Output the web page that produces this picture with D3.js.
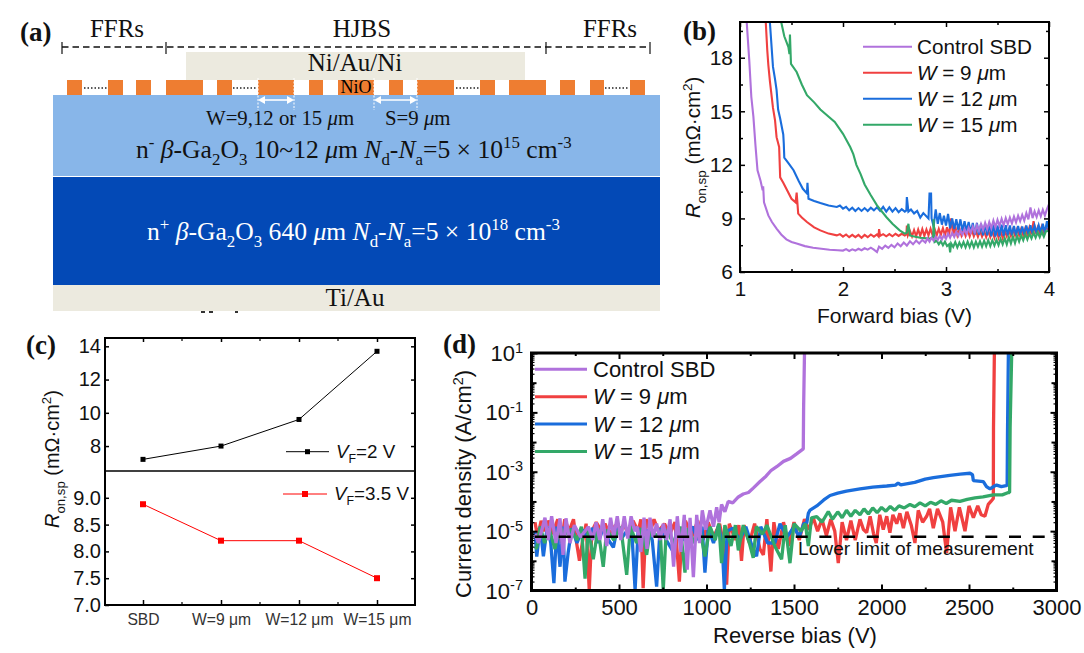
<!DOCTYPE html>
<html><head><meta charset="utf-8">
<script src="https://cdn.jsdelivr.net/npm/d3@7/dist/d3.min.js"></script>
<style>html,body{margin:0;padding:0;background:#fff}svg{display:block}</style></head>
<body><svg id="c" width="1084" height="653"></svg>
<script>
const SANS='"Liberation Sans",Arial,sans-serif', SERIF='"Liberation Serif","Times New Roman",serif';
const cPurple='#B072DC', cRed='#F04040', cBlue='#1A6DDC', cGreen='#33A868';

// (a) device structure
const orangeBlocks=[[67,82],[108,123],[136,151],[166,203],[217,232],[258,294],[309,323],[338,374],[389,403],[417,454],[480,495],[509,546],[560,575],[590,604],[630,645]];
const dotSegments=[[84,107],[233,257],[456,479],[605,629]];
const headerTicks=[62,166,546,650];
const cropMarks=[[201,205],[209,213],[235,238]];

// (b) Ron,sp vs forward bias
const bPurple=[[1.065,20],[1.09,17.85],[1.11,15.8],[1.13,14.7],[1.15,13.1],[1.17,11.7],[1.2,11.1],[1.22,10.57],[1.225,10.8],[1.233,9.9],[1.275,9.17],[1.31,8.8],[1.355,8.43],[1.4,8.1],[1.45,7.83],[1.5,7.68],[1.55,7.59],[1.63,7.45],[1.71,7.36],[1.79,7.3],[1.87,7.25],[1.95,7.22],[2.0,7.2],[2.03,7.28],[2.06,7.18],[2.09,7.27],[2.12,7.2],[2.15,7.3],[2.18,7.22],[2.21,7.33],[2.24,7.25],[2.27,7.36],[2.3,7.25],[2.33,7.12],[2.35,7.42],[2.38,7.3],[2.41,7.48],[2.44,7.35],[2.47,7.52],[2.5,7.38],[2.53,7.6],[2.56,7.44],[2.59,7.65],[2.62,7.48],[2.65,7.72],[2.68,7.55],[2.71,7.76],[2.74,7.6],[2.77,7.8],[2.8,7.65],[2.82,7.88],[2.84,7.7],[2.86,7.92],[2.88,7.75],[2.9,7.98],[2.92,7.8],[2.94,8.02],[2.96,7.82],[2.98,8.08],[3.0,7.86],[3.02,8.15],[3.04,7.92],[3.06,8.2],[3.08,7.96],[3.1,8.25],[3.12,8.02],[3.14,8.32],[3.16,8.08],[3.18,8.4],[3.2,8.12],[3.22,8.48],[3.24,8.2],[3.26,8.55],[3.28,8.22],[3.3,8.62],[3.32,8.3],[3.34,8.68],[3.36,8.35],[3.38,8.75],[3.4,8.4],[3.42,8.8],[3.44,8.45],[3.46,8.88],[3.48,8.5],[3.5,8.92],[3.52,8.58],[3.54,8.98],[3.56,8.62],[3.58,9.02],[3.6,8.68],[3.62,9.05],[3.64,8.72],[3.66,9.1],[3.68,8.78],[3.7,9.15],[3.72,8.85],[3.74,9.2],[3.76,8.88],[3.78,9.3],[3.8,8.95],[3.82,9.62],[3.84,9.02],[3.86,9.4],[3.88,9.08],[3.9,9.45],[3.92,9.12],[3.94,9.48],[3.96,9.16],[3.98,9.52],[4,9.8]];
const bRed=[[1.25,20],[1.265,18.4],[1.275,17.6],[1.29,16.7],[1.32,15.2],[1.34,14.5],[1.355,13.55],[1.38,13],[1.39,11.3],[1.42,11],[1.45,10.66],[1.5,10.1],[1.54,9.9],[1.55,10.45],[1.565,9.27],[1.6,9.05],[1.65,8.8],[1.72,8.5],[1.78,8.33],[1.86,8.15],[1.94,8.05],[1.97,8.12],[2,7.98],[2.03,8.1],[2.06,7.95],[2.09,8.08],[2.12,7.95],[2.15,8.08],[2.18,7.92],[2.21,8.08],[2.24,7.95],[2.27,8.1],[2.3,7.98],[2.33,8.1],[2.345,8],[2.35,8.4],[2.36,8.02],[2.39,8.12],[2.42,8],[2.45,8.12],[2.48,8],[2.51,8.14],[2.54,8.02],[2.57,8.14],[2.6,8.04],[2.615,8.1],[2.62,8.6],[2.63,8.05],[2.65,8.3],[2.67,8],[2.69,8.35],[2.71,8],[2.73,8.38],[2.75,8.02],[2.77,8.4],[2.79,8.02],[2.81,8.38],[2.83,8.05],[2.85,8.42],[2.87,8.05],[2.89,8.4],[2.91,8.05],[2.93,8.42],[2.95,8.08],[2.97,8.45],[2.99,8.05],[3.01,8.5],[3.03,8.05],[3.05,9],[3.07,8.05],[3.09,8.55],[3.11,8.05],[3.13,8.45],[3.15,8.05],[3.17,8.4],[3.19,8.02],[3.21,8.35],[3.23,8],[3.25,8.35],[3.27,8],[3.29,8.32],[3.31,7.98],[3.33,8.32],[3.35,7.98],[3.37,8.3],[3.39,7.95],[3.41,8.32],[3.43,7.95],[3.45,8.3],[3.47,7.92],[3.49,8.35],[3.51,7.92],[3.53,8.3],[3.55,7.9],[3.57,8.3],[3.59,8],[3.61,8.35],[3.63,8.02],[3.65,8.38],[3.67,8.05],[3.69,8.4],[3.71,8.05],[3.73,8.42],[3.75,8.05],[3.77,8.45],[3.79,8.08],[3.81,8.5],[3.83,8.1],[3.85,8.85],[3.87,8.15],[3.89,8.5],[3.91,8.2],[3.93,8.55],[3.95,8.2],[3.97,8.5],[4,8.3]];
const bBlue=[[1.29,20],[1.32,17.5],[1.34,16.8],[1.355,16.2],[1.37,15.1],[1.39,14.6],[1.42,13.7],[1.425,13.2],[1.43,12.4],[1.47,12.1],[1.52,11.7],[1.57,11.1],[1.61,10.66],[1.65,10.4],[1.655,11],[1.665,10.1],[1.72,9.98],[1.78,9.86],[1.86,9.72],[1.94,9.64],[1.97,9.72],[2,9.55],[2.03,9.65],[2.06,9.45],[2.09,9.6],[2.12,9.42],[2.15,9.58],[2.18,9.42],[2.21,9.58],[2.24,9.42],[2.27,9.6],[2.3,9.45],[2.33,9.62],[2.36,9.42],[2.39,9.65],[2.42,9.38],[2.45,9.62],[2.48,9.38],[2.51,9.58],[2.54,9.35],[2.57,9.52],[2.6,9.38],[2.615,9.45],[2.62,10.2],[2.635,9.38],[2.66,9.5],[2.69,9.28],[2.72,9.42],[2.75,9.05],[2.78,9.3],[2.83,9],[2.84,10.4],[2.855,10.4],[2.86,9],[2.88,8.55],[2.9,9.5],[2.92,8.7],[2.94,9.3],[2.96,8.65],[2.98,9.15],[3,8.6],[3.02,9.25],[3.04,8.45],[3.06,9.0],[3.08,8.4],[3.1,8.95],[3.12,8.35],[3.14,8.95],[3.16,8.3],[3.18,8.85],[3.2,8.3],[3.22,8.8],[3.24,8.2],[3.26,8.75],[3.28,8.1],[3.3,8.75],[3.32,8.1],[3.34,8.7],[3.36,8.05],[3.38,8.7],[3.4,8.05],[3.42,8.72],[3.44,8],[3.46,8.65],[3.48,7.98],[3.5,8.6],[3.52,8],[3.54,8.65],[3.56,8.02],[3.58,8.62],[3.6,8.05],[3.62,8.6],[3.64,8.05],[3.66,8.58],[3.68,8.05],[3.7,8.58],[3.72,8.08],[3.74,8.55],[3.76,8.1],[3.78,8.6],[3.8,8.12],[3.82,8.62],[3.84,8.15],[3.86,8.6],[3.88,8.18],[3.9,8.62],[3.92,8.2],[3.94,8.7],[3.96,8.2],[3.98,8.85],[4,8.3]];
const bGreen=[[1.4,20],[1.43,19.2],[1.47,18.6],[1.48,18.2],[1.485,19.3],[1.495,17.66],[1.55,17.2],[1.6,16.5],[1.65,15.9],[1.72,15.5],[1.78,15.1],[1.85,14.75],[1.92,14.4],[2,13.74],[2.07,13],[2.1,12.6],[2.13,12],[2.17,11.5],[2.21,10.9],[2.27,10.3],[2.33,9.73],[2.42,9.08],[2.48,8.7],[2.55,8.33],[2.6,8.15],[2.62,8.2],[2.635,8.7],[2.65,8.05],[2.68,8],[2.75,7.92],[2.84,7.87],[2.875,7.95],[2.88,8.95],[2.89,7.68],[2.91,7.75],[2.93,7.55],[2.95,7.72],[2.97,7.5],[2.99,7.7],[3.01,7.45],[3.03,7.55],[3.04,7.1],[3.05,7.6],[3.07,7.4],[3.09,7.68],[3.11,7.38],[3.13,7.65],[3.15,7.4],[3.17,7.68],[3.19,7.38],[3.21,7.7],[3.23,7.4],[3.25,7.7],[3.27,7.38],[3.29,7.7],[3.31,7.42],[3.33,7.72],[3.35,7.42],[3.37,7.75],[3.39,7.45],[3.41,7.78],[3.43,7.45],[3.45,7.78],[3.47,7.48],[3.49,7.8],[3.51,7.5],[3.53,7.85],[3.55,7.55],[3.57,7.9],[3.59,7.55],[3.61,7.95],[3.63,7.6],[3.65,7.98],[3.67,7.62],[3.69,8.02],[3.71,7.7],[3.73,8.05],[3.75,7.78],[3.77,8.12],[3.79,7.82],[3.81,8.15],[3.83,7.88],[3.85,8.2],[3.87,7.92],[3.89,8.22],[3.91,7.95],[3.93,8.25],[3.95,7.98],[3.97,8.28],[4,8.3]];

// (c) Ron,sp by device
const cCategories=['SBD','W=9 μm','W=12 μm','W=15 μm'];
const cTop=[7.2,8.0,9.6,13.7];
const cBottom=[8.88,8.2,8.2,7.5];

// (d) reverse leakage, [V, log10(J)]
const dPurple=[[20,-5.1],[40,-5.4],[77,-4.55],[95,-5.3],[115,-4.5],[140,-5.4],[163,-4.57],[180,-5.8],[197,-4.57],[220,-5.4],[245,-4.8],[280,-5.2],[325,-4.85],[350,-5.3],[369,-4.7],[390,-5.3],[407,-4.6],[430,-5.5],[452,-4.55],[470,-5.2],[490,-4.5],[510,-5.3],[530,-4.5],[550,-5.25],[569,-4.5],[590,-5.0],[605,-4.85],[625,-5.7],[643,-4.55],[660,-5.6],[677,-4.55],[695,-5.2],[715,-4.75],[735,-5.3],[753,-4.75],[772,-5.3],[792,-4.6],[812,-6.2],[833,-4.5],[853,-5.7],[873,-4.45],[890,-6.3],[906,-4.55],[925,-6.55],[944,-4.45],[960,-5.4],[976,-4.3],[995,-4.95],[1020,-4.3],[1040,-4.85],[1058,-4.2],[1072,-4.7],[1086,-4.1],[1105,-4.35],[1124,-4.0],[1150,-4.05],[1182,-3.85],[1210,-3.75],[1240,-3.7],[1267,-3.55],[1306,-3.33],[1340,-3.15],[1370,-2.95],[1401,-2.83],[1440,-2.65],[1480,-2.55],[1515,-2.4],[1553,-2.23],[1555,-0.81],[1560,1]];
const dRed=[[20,-4.7],[35,-5.2],[55,-4.65],[75,-5.0],[100,-4.65],[120,-5.1],[150,-4.6],[170,-5.4],[190,-4.6],[215,-5.0],[240,-4.6],[255,-5.3],[274,-6.0],[290,-5.4],[312,-4.75],[330,-6.98],[345,-5.0],[370,-4.7],[400,-5.0],[420,-4.75],[445,-5.1],[480,-4.8],[500,-5.05],[530,-4.75],[550,-5.1],[580,-4.65],[610,-5.0],[625,-4.6],[638,-6.92],[655,-4.6],[680,-5.0],[700,-4.6],[725,-5.0],[760,-4.75],[790,-5.1],[820,-4.7],[845,-6.7],[860,-5.0],[880,-4.65],[915,-5.2],[950,-4.65],[980,-5.3],[1010,-4.7],[1040,-5.2],[1075,-4.75],[1100,-5.5],[1115,-6.8],[1130,-4.75],[1165,-5.3],[1185,-4.8],[1200,-6.0],[1215,-4.8],[1245,-5.4],[1275,-4.75],[1305,-5.6],[1325,-5.8],[1345,-4.6],[1368,-6.36],[1385,-4.7],[1410,-5.6],[1440,-4.7],[1470,-5.5],[1500,-4.7],[1530,-5.3],[1560,-4.6],[1585,-4.95],[1610,-4.55],[1635,-5.0],[1660,-4.6],[1685,-5.15],[1710,-4.6],[1733,-5.0],[1753,-6.08],[1775,-4.7],[1800,-5.3],[1825,-4.65],[1850,-5.3],[1877,-4.6],[1897,-4.95],[1915,-5.05],[1935,-4.5],[1955,-5.1],[1970,-5.4],[1990,-4.45],[2010,-4.95],[2030,-4.5],[2048,-5.05],[2065,-4.45],[2087,-4.75],[2105,-4.4],[2125,-4.9],[2145,-4.35],[2170,-4.8],[2191,-5.4],[2210,-4.3],[2235,-4.7],[2258,-4.5],[2275,-4.25],[2296,-4.9],[2320,-4.25],[2350,-4.7],[2372,-5.74],[2395,-4.2],[2420,-5.0],[2445,-4.2],[2465,-4.7],[2477,-5.0],[2500,-4.15],[2525,-4.55],[2550,-4.15],[2570,-4.45],[2591,-4.5],[2610,-4.1],[2625,-4.0],[2639,-3.9],[2640,-1.5],[2645,1]];
const dBlue=[[20,-5.0],[30,-5.86],[50,-4.85],[68,-5.85],[90,-4.85],[110,-5.4],[128,-6.75],[145,-4.85],[163,-6.2],[180,-4.85],[191,-6.7],[210,-5.7],[230,-4.9],[260,-5.4],[290,-4.95],[320,-5.2],[350,-4.9],[380,-5.4],[410,-4.9],[440,-5.3],[468,-5.55],[490,-4.9],[520,-5.2],[550,-4.95],[575,-5.2],[592,-6.98],[610,-4.9],[640,-5.3],[665,-4.95],[690,-5.3],[715,-6.87],[735,-4.9],[770,-5.3],[810,-5.7],[830,-4.9],[860,-5.3],[887,-5.2],[920,-4.85],[950,-5.3],[975,-4.85],[991,-6.4],[1010,-4.9],[1040,-5.4],[1070,-4.8],[1090,-5.5],[1102,-6.98],[1118,-5.0],[1150,-4.9],[1190,-5.3],[1225,-4.85],[1260,-5.5],[1286,-5.85],[1310,-4.85],[1350,-5.4],[1391,-5.4],[1420,-4.75],[1460,-5.2],[1500,-4.85],[1530,-5.2],[1555,-4.75],[1573,-4.73],[1582,-4.4],[1592,-4.29],[1630,-4.15],[1670,-3.95],[1706,-3.8],[1750,-3.72],[1800,-3.65],[1877,-3.58],[1950,-3.52],[2030,-3.48],[2080,-3.45],[2095,-3.38],[2110,-3.44],[2190,-3.36],[2250,-3.25],[2297,-3.2],[2390,-3.12],[2450,-3.08],[2506,-3.05],[2520,-3.1],[2525,-3.3],[2582,-3.33],[2600,-3.5],[2620,-3.58],[2640,-3.5],[2658,-3.45],[2685,-3.5],[2712,-3.47],[2718,-3.45],[2720,-1.7],[2725,1]];
const dGreen=[[20,-5.6],[30,-5.55],[50,-4.85],[75,-5.4],[100,-4.9],[134,-5.6],[160,-4.85],[190,-5.1],[225,-4.95],[260,-5.3],[285,-4.85],[306,-6.6],[325,-4.85],[353,-5.95],[380,-4.9],[410,-6.2],[430,-4.95],[470,-5.3],[510,-4.85],[544,-6.47],[565,-4.85],[600,-5.4],[630,-4.9],[658,-5.8],[680,-4.9],[720,-5.2],[735,-4.95],[753,-6.98],[770,-4.95],[810,-5.4],[850,-4.85],[877,-6.4],[895,-4.9],[930,-5.4],[960,-4.85],[991,-5.85],[1020,-4.85],[1050,-5.3],[1070,-4.75],[1086,-6.08],[1105,-4.8],[1140,-5.5],[1165,-4.8],[1182,-5.65],[1210,-4.8],[1245,-5.4],[1267,-5.9],[1285,-4.85],[1320,-5.1],[1345,-4.8],[1390,-5.5],[1429,-5.95],[1450,-4.8],[1477,-6.08],[1500,-4.75],[1540,-5.0],[1565,-4.75],[1582,-5.5],[1600,-4.55],[1630,-4.51],[1660,-4.7],[1696,-4.34],[1720,-4.6],[1750,-4.35],[1775,-4.55],[1800,-4.3],[1825,-4.5],[1850,-4.3],[1877,-4.45],[1900,-4.25],[1925,-4.42],[1950,-4.22],[1975,-4.38],[2000,-4.2],[2025,-4.33],[2050,-4.17],[2075,-4.3],[2100,-4.15],[2130,-4.22],[2163,-4.1],[2190,-4.18],[2220,-4.05],[2250,-4.15],[2280,-4.03],[2310,-4.1],[2340,-3.98],[2370,-4.07],[2400,-3.96],[2448,-4.0],[2490,-3.93],[2534,-3.88],[2580,-3.85],[2639,-3.78],[2690,-3.78],[2725,-3.7],[2732,-3.7],[2735,-1.5],[2744,1]];
const dLimit=[[20,-5.19],[2960,-5.19]];

const svg=d3.select('#c');
function rich(x,y,size,family,fill,anchor,segs,rot,g){
  const t=(g||svg).append('text').attr('font-size',size).attr('font-family',family).attr('fill',fill).attr('text-anchor',anchor).style('white-space','pre');
  if(rot!==undefined) t.attr('transform',`translate(${x},${y}) rotate(${rot})`); else t.attr('x',x).attr('y',y);
  let cur=0;
  segs.forEach(s=>{
    const [txt,o]=typeof s==='string'?[s,{}]:s;
    const target=o.sub?size*.28:o.sup?-size*.38:0;
    const ts=t.append('tspan').text(txt).attr('dy',target-cur);
    cur=target;
    if(o.sub||o.sup) ts.attr('font-size',size*.66);
    if(o.i) ts.attr('font-style','italic');
    if(o.b) ts.attr('font-weight','bold');
  });
  return t;
}
const I={i:1},SUB={sub:1},SUP={sup:1};

/* ---------- panel a ---------- */
const A=svg.append('g');
const rectA=(x0,x1,y0,y1,f)=>A.append('rect').attr('x',x0).attr('width',x1-x0).attr('y',y0).attr('height',y1-y0).attr('fill',f);
rectA(186,525,52,80,'#ECEADF');
rectA(53,660,95,176,'#88B6E9');
rectA(53,660,177,285,'#0349B6');
rectA(53,660,285,311,'#ECEADF');
A.selectAll('.o').data(orangeBlocks).join('rect').attr('x',d=>d[0]).attr('width',d=>d[1]-d[0]).attr('y',80).attr('height',15).attr('fill','#EE7D31');
A.selectAll('.d').data(dotSegments).join('line').attr('x1',d=>d[0]).attr('x2',d=>d[1]).attr('y1',88).attr('y2',88).attr('stroke','#222').attr('stroke-width',1.3).attr('stroke-dasharray','1.5 2');
A.selectAll('.m').data(cropMarks).join('line').attr('x1',d=>d[0]).attr('x2',d=>d[1]).attr('y1',312).attr('y2',312).attr('stroke','#333').attr('stroke-width',2);
A.append('line').attr('x1',62).attr('x2',650).attr('y1',47).attr('y2',47).attr('stroke','#111').attr('stroke-width',1.6).attr('stroke-dasharray','6.5 4');
A.selectAll('.h').data(headerTicks).join('line').attr('x1',d=>d).attr('x2',d=>d).attr('y1',42).attr('y2',54).attr('stroke','#111').attr('stroke-width',1.2);
[[258,294],[374,417]].forEach(([a,b])=>{
  [a,b].forEach(x=>A.append('line').attr('x1',x).attr('x2',x).attr('y1',78).attr('y2',110).attr('stroke','#fff').attr('stroke-width',1).attr('stroke-dasharray','2 1.5'));
  A.append('line').attr('x1',a+3).attr('x2',b-3).attr('y1',100).attr('y2',100).attr('stroke','#fff').attr('stroke-width',1.6);
  A.append('path').attr('d',`M${a},100l7,-4v8zM${b},100l-7,-4v8z`).attr('fill','#fff');
});
rich(117,37,25,SERIF,'#111','middle',['FFRs']);
rich(362,37,25,SERIF,'#111','middle',['HJBS']);
rich(610,37,25,SERIF,'#111','middle',['FFRs']);
rich(355,71,25,SERIF,'#111','middle',['Ni/Au/Ni']);
rich(356,93,18,SERIF,'#000','middle',['NiO']);
rich(206,125,20.8,SERIF,'#111','start',['W=9,12 or 15 ',['μ',I],'m']);
rich(385,125,20.8,SERIF,'#111','start',['S=9 ',['μ',I],'m']);
rich(136,158,25.6,SERIF,'#111','start',['n',['-',SUP],' ',['β',I],'-Ga',['2',SUB],'O',['3',SUB],' 10~12 ',['μ',I],'m ',['N',I],['d',SUB],'-',['N',I],['a',SUB],'=5 × 10',['15',SUP],' cm',['-3',SUP]]);
rich(147,240,25.6,SERIF,'#fff','start',['n',['+',SUP],' ',['β',I],'-Ga',['2',SUB],'O',['3',SUB],' 640 ',['μ',I],'m ',['N',I],['d',SUB],'-',['N',I],['a',SUB],'=5 × 10',['18',SUP],' cm',['-3',SUP]]);
rich(355,306,25,SERIF,'#111','middle',['Ti/Au']);
rich(20,41,27,SERIF,'#111','start',[['(a)',{b:1}]]);
rich(683,40,27,SERIF,'#111','start',[['(b)',{b:1}]]);
rich(26,354,27,SERIF,'#111','start',[['(c)',{b:1}]]);
rich(443,353,27,SERIF,'#111','start',[['(d)',{b:1}]]);

function styleAxis(g,size,sw){
  g.select('.domain').remove();
  g.selectAll('line').attr('stroke','#000').attr('stroke-width',sw);
  g.selectAll('text').attr('font-family',SANS).attr('font-size',size).attr('fill','#111');
}
function frame(x0,y0,x1,y1,sw){svg.append('rect').attr('x',x0).attr('y',y0).attr('width',x1-x0).attr('height',y1-y0).attr('fill','none').attr('stroke','#000').attr('stroke-width',sw);}

/* ---------- panel b ---------- */
const bX=d3.scaleLinear().domain([1,4]).range([740,1049]);
const bY=d3.scaleLinear().domain([6,20]).range([272,22]);
svg.append('clipPath').attr('id','cb').append('rect').attr('x',740).attr('y',22).attr('width',309).attr('height',250);
const bLine=d3.line().x(d=>bX(d[0])).y(d=>bY(d[1]));
[[bRed,cRed],[bBlue,cBlue],[bGreen,cGreen],[bPurple,cPurple]].forEach(([s,c])=>
  svg.append('path').datum(s).attr('d',bLine).attr('fill','none').attr('stroke',c).attr('stroke-width',2.1).attr('clip-path','url(#cb)'));
const bxT=[1,2,3,4], bxM=[1.5,2.5,3.5], byT=[6,9,12,15,18], byM=[7.5,10.5,13.5,16.5,19.5];
[[d3.axisBottom(bX).tickValues(bxT).tickFormat(d3.format('d')).tickSizeInner(-5).tickSizeOuter(0).tickPadding(9),272],
 [d3.axisBottom(bX).tickValues(bxM).tickFormat('').tickSizeInner(-3).tickSizeOuter(0),272],
 [d3.axisTop(bX).tickValues(bxT).tickFormat('').tickSizeInner(-5).tickSizeOuter(0),22],
 [d3.axisTop(bX).tickValues(bxM).tickFormat('').tickSizeInner(-3).tickSizeOuter(0),22]].forEach(([a,y])=>{
  const g=svg.append('g').attr('transform',`translate(0,${y})`).call(a);styleAxis(g,20.5,1.5);});
[[d3.axisLeft(bY).tickValues(byT).tickFormat(d3.format('d')).tickSizeInner(-5).tickSizeOuter(0).tickPadding(7),740],
 [d3.axisLeft(bY).tickValues(byM).tickFormat('').tickSizeInner(-3).tickSizeOuter(0),740],
 [d3.axisRight(bY).tickValues(byT).tickFormat('').tickSizeInner(-5).tickSizeOuter(0),1049],
 [d3.axisRight(bY).tickValues(byM).tickFormat('').tickSizeInner(-3).tickSizeOuter(0),1049]].forEach(([a,x])=>{
  const g=svg.append('g').attr('transform',`translate(${x},0)`).call(a);styleAxis(g,21,1.5);});
frame(740,22,1049,272,2);
const legSeries=[['Control SBD',cPurple],['W',cRed,' = 9 '],['W',cBlue,' = 12 '],['W',cGreen,' = 15 ']];
legSeries.forEach((l,i)=>{
  const y=46.7+i*26;
  svg.append('line').attr('x1',863).attr('x2',912).attr('y1',y).attr('y2',y).attr('stroke',l[1]).attr('stroke-width',2);
  rich(917,y+7,20.7,SANS,'#111','start',l[2]?[[l[0],I],l[2],['μ',I],'m']:[l[0]]);
});
rich(894.5,323,21,SANS,'#111','middle',['Forward bias (V)']);
rich(700,218,20.5,SANS,'#111','start',[['R',I],['on,sp',SUB],' (mΩ·cm',['2',SUP],')'],-90);

/* ---------- panel c ---------- */
const cX=d3.scalePoint().domain(cCategories).range([143,377]);
const cYt=d3.scaleLinear().domain([6.5,14.5]).range([471,338]);
const cYb=d3.scaleLinear().domain([7,9.5]).range([605,471]);
const minorX=[182,260,338];
[[cYt,cTop,'#000',1,5],[cYb,cBottom,'#f00',1,6]].forEach(([yS,vals,col,sw,ms])=>{
  svg.append('path').datum(vals).attr('d',d3.line().x((d,i)=>cX(cCategories[i])).y(d=>yS(d))).attr('fill','none').attr('stroke',col).attr('stroke-width',sw);
  svg.selectAll(null).data(vals).join('rect').attr('x',(d,i)=>cX(cCategories[i])-ms/2).attr('y',d=>yS(d)-ms/2).attr('width',ms).attr('height',ms).attr('fill',col);
});
let g;
g=svg.append('g').attr('transform','translate(0,605)').call(d3.axisBottom(cX).tickSizeInner(-5).tickSizeOuter(0).tickPadding(9));
styleAxis(g,15.7,1.5);g.selectAll('text').attr('fill','#333');
g=svg.append('g').attr('transform','translate(0,338)').call(d3.axisTop(cX).tickFormat('').tickSizeInner(-4).tickSizeOuter(0));styleAxis(g,15,1.5);
svg.selectAll(null).data(minorX).join('line').attr('x1',d=>d).attr('x2',d=>d).attr('y1',605).attr('y2',602).attr('stroke','#000').attr('stroke-width',1.2);
svg.selectAll(null).data(minorX).join('line').attr('x1',d=>d).attr('x2',d=>d).attr('y1',338).attr('y2',341).attr('stroke','#000').attr('stroke-width',1.2);
const ctTicks=[8,10,12,14], cbTicks=[7.5,8,8.5,9], cbLabels=[7,7.5,8,8.5,9];
g=svg.append('g').attr('transform','translate(105,0)').call(d3.axisLeft(cYt).tickValues(ctTicks).tickFormat(d3.format('d')).tickSizeInner(-4).tickSizeOuter(0).tickPadding(4));styleAxis(g,20,1.5);
g=svg.append('g').attr('transform','translate(415,0)').call(d3.axisRight(cYt).tickValues(ctTicks).tickFormat('').tickSizeInner(-4).tickSizeOuter(0));styleAxis(g,20,1.5);
g=svg.append('g').attr('transform','translate(105,0)').call(d3.axisLeft(cYb).tickValues(cbLabels).tickFormat(d3.format('.1f')).tickSizeInner(-4).tickSizeOuter(0).tickPadding(4));styleAxis(g,20,1.5);
g=svg.append('g').attr('transform','translate(415,0)').call(d3.axisRight(cYb).tickValues(cbTicks).tickFormat('').tickSizeInner(-4).tickSizeOuter(0));styleAxis(g,20,1.5);
frame(105,338,415,605,2);
svg.append('line').attr('x1',105).attr('x2',415).attr('y1',471).attr('y2',471).attr('stroke','#000').attr('stroke-width',1.6);
[[286,329,451.7,'#000',5,336,'2 V'],[283,327,494,'#f00',6,334,'3.5 V']].forEach(([a,b,y,col,ms,tx,lab])=>{
  svg.append('line').attr('x1',a).attr('x2',b).attr('y1',y).attr('y2',y).attr('stroke',col).attr('stroke-width',1);
  svg.append('rect').attr('x',(a+b)/2-ms/2).attr('y',y-ms/2).attr('width',ms).attr('height',ms).attr('fill',col);
  rich(tx,y+6,18.8,SANS,'#111','start',[['V',I],['F',SUB],'='+lab]);
});
rich(59,528,20,SANS,'#111','start',[['R',I],['on,sp',SUB],' (mΩ·cm',['2',SUP],')'],-90);

/* ---------- panel d ---------- */
const dX=d3.scaleLinear().domain([0,3000]).range([531.5,1056.5]);
const dY=d3.scaleLog().domain([1e-7,10]).range([590.5,353]);
svg.append('clipPath').attr('id','cd').append('rect').attr('x',531.5).attr('y',353).attr('width',525).attr('height',237.5);
const dLine=d3.line().x(d=>dX(d[0])).y(d=>dY(Math.pow(10,d[1])));
[[dRed,cRed],[dBlue,cBlue],[dGreen,cGreen],[dPurple,cPurple]].forEach(([s,c])=>
  svg.append('path').datum(s).attr('d',dLine).attr('fill','none').attr('stroke',c).attr('stroke-width',3.3).attr('stroke-linejoin','bevel').attr('clip-path','url(#cd)'));
svg.append('path').datum(dLimit).attr('d',dLine).attr('fill','none').attr('stroke','#000').attr('stroke-width',2.6).attr('stroke-dasharray','12 11.7');
const dxT=[0,500,1000,1500,2000,2500,3000], dxM=[250,750,1250,1750,2250,2750];
const dyLab=[1e-7,1e-5,1e-3,1e-1,10], dyMid=[1e-6,1e-4,1e-2,1];
const dyMinor=[];for(let e=-7;e<1;e++)for(let m=2;m<10;m++)dyMinor.push(m*Math.pow(10,e));
[[d3.axisBottom(dX).tickValues(dxT).tickFormat(d3.format('d')).tickSizeInner(-6).tickSizeOuter(0).tickPadding(9),590.5],
 [d3.axisBottom(dX).tickValues(dxM).tickFormat('').tickSizeInner(-3).tickSizeOuter(0),590.5],
 [d3.axisTop(dX).tickValues(dxT).tickFormat('').tickSizeInner(-6).tickSizeOuter(0),353],
 [d3.axisTop(dX).tickValues(dxM).tickFormat('').tickSizeInner(-3).tickSizeOuter(0),353]].forEach(([a,y])=>{
  const gg=svg.append('g').attr('transform',`translate(0,${y})`).call(a);styleAxis(gg,22,2);});
[[dyLab,-6],[dyMid,-5],[dyMinor,-3]].forEach(([vals,sz])=>{
  let gg=svg.append('g').attr('transform','translate(531.5,0)').call(d3.axisLeft(dY).tickValues(vals).tickFormat('').tickSizeInner(sz).tickSizeOuter(0));styleAxis(gg,22,sz===-3?1.2:2);
  gg=svg.append('g').attr('transform','translate(1056.5,0)').call(d3.axisRight(dY).tickValues(vals).tickFormat('').tickSizeInner(sz).tickSizeOuter(0));styleAxis(gg,22,sz===-3?1.2:2);
});
dyLab.forEach(v=>{
  const e=Math.round(Math.log10(v));
  rich(523,dY(v)+8,22,SANS,'#111','end',['10',[String(e),SUP]]);
});
frame(531.5,353,1056.5,590.5,3);
legSeries.forEach((l,i)=>{
  const y=369.3+i*27.4;
  svg.append('line').attr('x1',535).attr('x2',587).attr('y1',y).attr('y2',y).attr('stroke',l[1]).attr('stroke-width',3);
  rich(593,y+7.5,22,SANS,'#111','start',l[2]?[[l[0],I],l[2],['μ',I],'m']:[l[0]]);
});
rich(798,555,19.2,SANS,'#111','start',['Lower limit of measurement']);
rich(795,643,22,SANS,'#111','middle',['Reverse bias (V)']);
rich(471,598,22,SANS,'#111','start',['Current density (A/cm',['2',SUP],')'],-90);
</script></body></html>
